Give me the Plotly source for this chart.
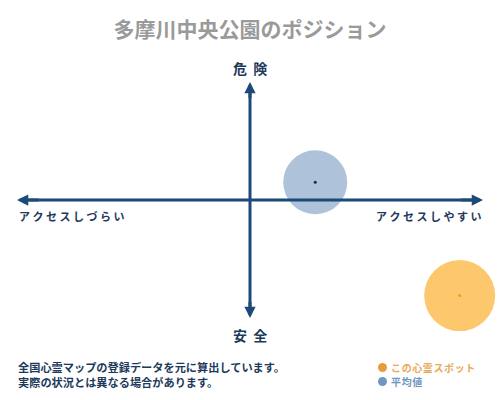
import plotly.graph_objects as go

# data
spots = ["この心霊スポット", "平均値"]
access = [0.90, 0.28]      # -1 = アクセスしづらい, 1 = アクセスしやすい
danger = [-0.81, 0.15]     # -1 = 安全, 1 = 危険
axis_labels = ["危険", "安全", "アクセスしづらい", "アクセスしやすい"]
notes = ["全国心霊マップの登録データを元に算出しています。", "実際の状況とは異なる場合があります。"]

font = "Noto Sans CJK JP"
navy = "#1b4a78"
text_navy = "#1d3a5c"
fill_colors = ["rgba(253,198,104,0.97)", "rgba(160,184,212,0.85)"]
dot_colors = ["#f0a020", "#1d2a3a"]
legend_colors = ["#e89a3c", "#6f97c0"]
legend_text_colors = ["#e8a85c", "#6f97c0"]
sizes = [71, 64]

W, H = 500, 400
L, R, T, B = 17, 17, 82, 82


def px(x):
    # page pixel -> paper x
    return (x - L) / (W - L - R)


def py(y):
    # page pixel -> paper y
    return (H - B - y) / (H - T - B)


def spaced(s, sep="&nbsp;"):
    return sep.join(s)


fig = go.Figure()

for i in range(len(spots)):
    fig.add_trace(go.Scatter(x=[access[i]], y=[danger[i]], mode="markers",
                             marker=dict(size=sizes[i], color=fill_colors[i], line=dict(width=0)),
                             showlegend=False, hoverinfo="skip", cliponaxis=False))
    fig.add_trace(go.Scatter(x=[access[i]], y=[danger[i]], mode="markers",
                             marker=dict(size=3, color=dot_colors[i]),
                             showlegend=False, hoverinfo="skip", cliponaxis=False))

# axis lines
fig.add_shape(type="line", xref="x", yref="y", x0=-0.975, x1=0.975, y0=0, y1=0,
              line=dict(color=navy, width=3), layer="above")
fig.add_shape(type="line", xref="x", yref="y", x0=0, x1=0, y0=-0.96, y1=0.96,
              line=dict(color=navy, width=3), layer="above")

# arrow heads
for (x, y, ax, ay) in [(1, 0, 0.9, 0), (-1, 0, -0.9, 0), (0, 1, 0, 0.85), (0, -1, 0, -0.85)]:
    fig.add_annotation(x=x, y=y, ax=ax, ay=ay, xref="x", yref="y", axref="x", ayref="y",
                       text="", showarrow=True, arrowhead=2, arrowsize=0.75,
                       arrowwidth=3, arrowcolor=navy)

# axis labels
fig.add_annotation(x=px(250), y=py(68), xref="paper", yref="paper", yanchor="middle",
                   text="<b>" + spaced(axis_labels[0], "&nbsp;&nbsp;") + "</b>",
                   showarrow=False, font=dict(family=font, size=14, color=text_navy))
fig.add_annotation(x=px(250), y=py(335), xref="paper", yref="paper", yanchor="middle",
                   text="<b>" + spaced(axis_labels[1], "&nbsp;&nbsp;") + "</b>",
                   showarrow=False, font=dict(family=font, size=14, color=text_navy))
fig.add_annotation(x=px(17), y=py(216), xref="paper", yref="paper", xanchor="left", yanchor="middle",
                   text="<b>" + spaced(axis_labels[2]) + "</b>",
                   showarrow=False, font=dict(family=font, size=11, color=text_navy))
fig.add_annotation(x=px(483), y=py(216), xref="paper", yref="paper", xanchor="right", yanchor="middle",
                   text="<b>" + spaced(axis_labels[3]) + "</b>",
                   showarrow=False, font=dict(family=font, size=11, color=text_navy))

# footer notes
for i, note in enumerate(notes):
    fig.add_annotation(x=px(16), y=py(367 + 15 * i), xref="paper", yref="paper",
                       xanchor="left", yanchor="middle", text="<b>" + note + "</b>",
                       showarrow=False, font=dict(family=font, size=11.2, color=text_navy))

# legend (drawn by hand)
for i, name in enumerate(spots):
    cy = 367.5 + 14 * i
    fig.add_shape(type="circle", xref="paper", yref="paper",
                  x0=px(378), x1=px(387), y0=py(cy + 4.5), y1=py(cy - 4.5),
                  fillcolor=legend_colors[i], line=dict(width=0))
    fig.add_annotation(x=px(389), y=py(cy), xref="paper", yref="paper", xanchor="left", yanchor="middle",
                       text="<b>" + spaced(name, "&#8202;") + "</b>", showarrow=False,
                       font=dict(family=font, size=10, color=legend_text_colors[i]))

fig.update_layout(
    width=W, height=H,
    margin=dict(l=L, r=R, t=T, b=B),
    paper_bgcolor="white", plot_bgcolor="white",
    title=dict(text="<b>多摩川中央公園のポジション</b>", x=0.5, xanchor="center", y=1 - 30 / H, yanchor="middle",
               font=dict(family=font, size=21, color="#9a9a9a")),
    xaxis=dict(range=[-1, 1], visible=False, fixedrange=True),
    yaxis=dict(range=[-1, 1], visible=False, fixedrange=True),
    showlegend=False,
)

fig.write_html("out.html", config={"displayModeBar": False},
               post_script="document.body.style.margin='0';")
